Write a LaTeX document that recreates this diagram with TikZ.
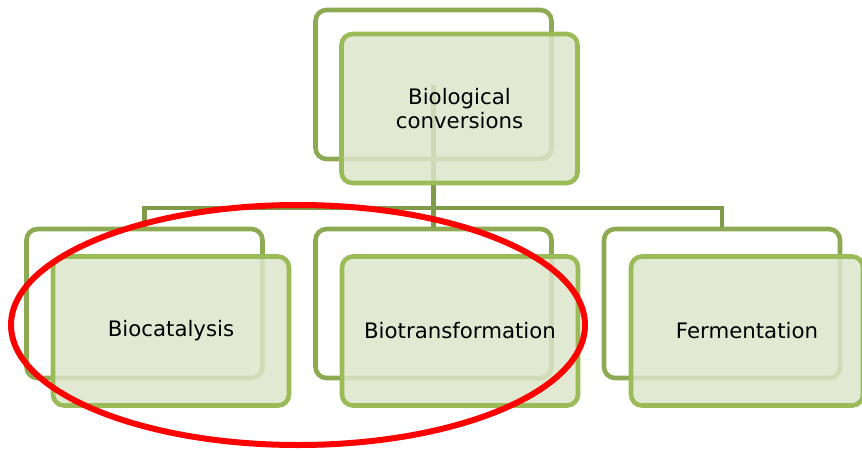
\documentclass[tikz,border=0pt]{standalone}
\usepackage{fontspec}
\setmainfont{DejaVu Sans}
\definecolor{backline}{HTML}{8DAA52}
\definecolor{frontline}{HTML}{9BBB59}
\definecolor{frontfill}{HTML}{DCE5CA}
\definecolor{connline}{HTML}{7F9A48}
\begin{document}
\begin{tikzpicture}[x=1pt,y=-1pt,
  backbox/.style={draw=backline,line width=4.6pt,rounded corners=11pt,fill=white,
    minimum width=236pt,minimum height=149pt,inner sep=0pt},
  frontbox/.style={draw=frontline,line width=4.6pt,rounded corners=11pt,fill=frontfill,fill opacity=0.85,text opacity=1,
    minimum width=236pt,minimum height=149pt,inner sep=0pt,align=center,
    font=\fontsize{21.3}{24}\selectfont},
  conn/.style={draw=connline,line width=4.6pt}]
\useasboundingbox (0,0) rectangle (862,450);
\coordinate (hub) at (433.5,208);
% connectors (behind boxes)
\node[backbox,draw=none,fill=none] (tbpos) at (433.5,84.5) {};
\node[backbox,draw=none,fill=none] (b1pos) at (144.5,303.5) {};
\node[backbox,draw=none,fill=none] (b2pos) at (433.5,303.5) {};
\node[backbox,draw=none,fill=none] (b3pos) at (722,303.5) {};
\draw[conn] (tbpos.center) -- (hub);
\draw[conn] (b1pos.north) |- (hub) -| (b3pos.north);
\draw[conn] (hub) -- (b2pos.north);
% back boxes
\node[backbox,fill=none] (tb) at (433.5,84.5) {};
\node[backbox,fill=none] (b1b) at (144.5,303.5) {};
\node[backbox,fill=none] (b2b) at (433.5,303.5) {};
\node[backbox,fill=none] (b3b) at (722,303.5) {};
% front boxes
\node[frontbox] (tf) at (459.5,108.5) {Biological\\conversions};
\node[frontbox] (b1f) at (171,331) {Biocatalysis};
\node[frontbox] (b2f) at (460,331) {Biotransformation};
\node[frontbox,minimum width=232pt] (b3f) at (747,331) {Fermentation};
% red ellipse
\draw[red,line width=6pt] (298,325) ellipse [x radius=287,y radius=120];
\end{tikzpicture}
\end{document}
